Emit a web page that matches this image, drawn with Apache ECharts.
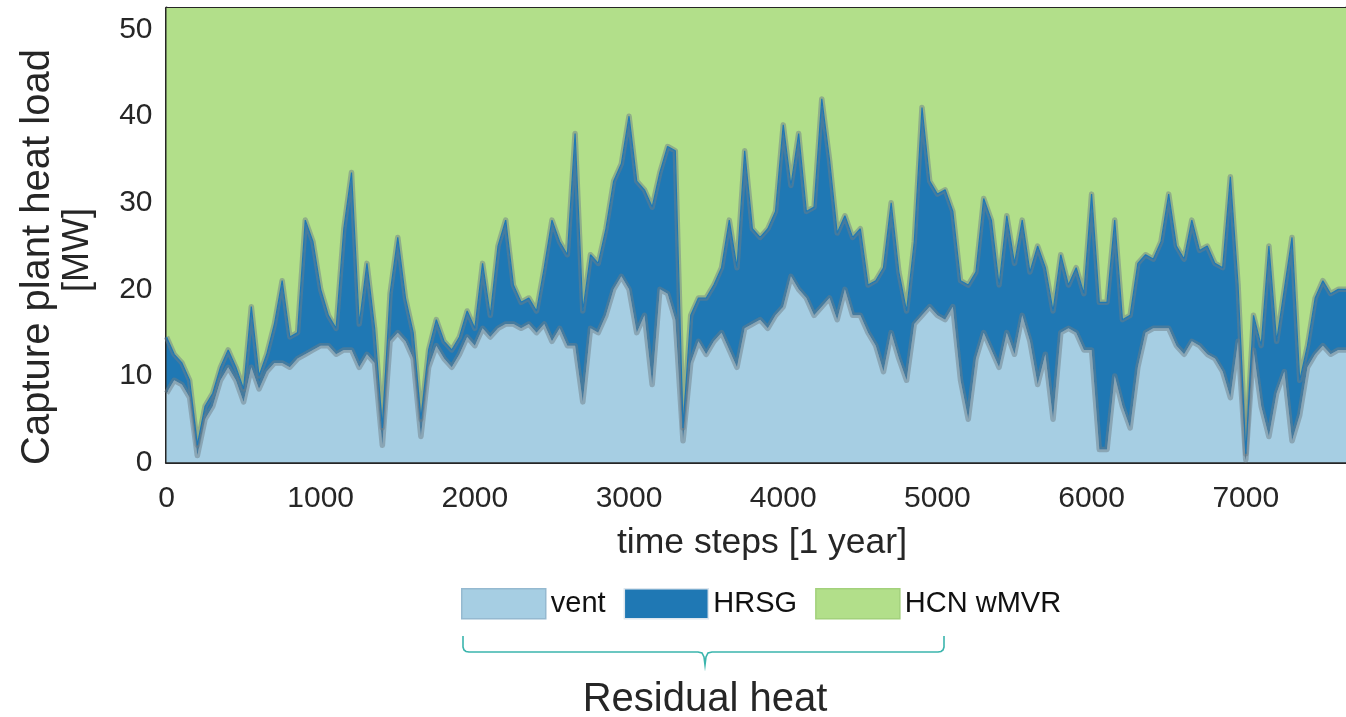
<!DOCTYPE html>
<html><head><meta charset="utf-8">
<script src="https://cdn.jsdelivr.net/npm/echarts@6/dist/echarts.min.js"></script>
<style>html,body{margin:0;padding:0;background:#fff;}#c{width:1346px;height:717px;}</style>
</head><body><div id="c"></div><script>
// time steps (x)
const steps = [0,50,100,150,200,250,300,350,400,450,500,550,600,650,700,750,800,850,900,950,
1000,1050,1100,1150,1200,1250,1300,1350,1400,1450,1500,1550,1600,1650,1700,1750,1800,1850,1900,1950,
2000,2050,2100,2150,2200,2250,2300,2350,2400,2450,2500,2550,2600,2650,2700,2750,2800,2850,2900,2950,
3000,3050,3100,3150,3200,3250,3300,3350,3400,3450,3500,3550,3600,3650,3700,3750,3800,3850,3900,3950,
4000,4050,4100,4150,4200,4250,4300,4350,4400,4450,4500,4550,4600,4650,4700,4750,4800,4850,4900,4950,
5000,5050,5100,5150,5200,5250,5300,5350,5400,5450,5500,5550,5600,5650,5700,5750,5800,5850,5900,5950,
6000,6050,6100,6150,6200,6250,6300,6350,6400,6450,6500,6550,6600,6650,6700,6750,6800,6850,6900,6950,
7000,7050,7100,7150,7200,7250,7300,7350,7400,7450,7500,7550,7600,7650];
// vent [MW]
const vent = [8,9.5,9,7.5,0.8,5,6.5,9.5,11,9.5,7,11,8.5,10.5,11.5,11.5,11,12,12.5,13,
13.5,13.5,12.5,13,13,11,12.5,11.5,2,14,15,14,12,3,11,13.5,12,11,12.5,14.5,
13.5,15.5,14.5,15.5,16,16,15.5,16,15,16,14,15.5,13.5,13.5,7,15.5,15,17,20,21.5,
20,15,17,9,20,19.5,16.5,2.5,11.5,14,12.5,14,15,13,11,15.5,16,16.5,15.5,17,
18,21.5,20,19,17,18,19,16.5,20,17,17,15,13.5,10.5,15,12,9.5,16,17,18,
17,16.5,18,9.5,5,12,15,13,11,15,12.5,17,14,9,12.5,5,15,15.5,15,13,
13,1.5,1.5,10,6.5,4,11,15,15.5,15.5,15.5,13.5,12.5,14,13.5,12.5,12,10.5,7.5,14,
0.3,13,6.5,3,8,10.5,2.5,5.5,11,12.5,13.5,12.5,13,13];
// HRSG [MW]
const hrsg = [6.5,3,2.5,2,1.2,1.5,1.5,1.5,2,1.5,1.5,7,1.5,2,4.5,9.5,3.5,3,15.5,12.5,
6.5,3.5,3,14,20.5,5,10.5,4,2,5.5,11,5,3,2,2,3,2,2,2,3,
2,7.5,2.5,9.5,12,4.5,3,3,2.5,6.5,14,10,10.5,24.5,10.5,8.5,8,10,12.5,13,
20,17.5,14.5,20.5,13.5,17,19.5,1.5,5.5,5,6.5,6.5,7.5,15,11.5,20.5,11,9.5,11.5,12,
21,10.5,18,10,12.5,24,16,10,8.5,9,10,5.5,7.5,12,15,10,8,9.5,24,14.5,
14,15,11,11.5,15.5,10,15.5,15,9.5,13.5,10.5,11,8,16,10,12.5,9,5,7.5,6.5,
18,17,17,18,10,13,12,9,8,10,15.5,11.5,11,14,11,12.5,11,12,25.5,6.5,
0.7,4,7,22,6,9.5,23.5,4,2.5,6.5,7.5,7,7,7];
// HCN wMVR [MW]
const hcn = [38.5,40.5,41.5,43.5,51,46.5,45,42,40,42,44.5,35,43,40.5,37,32,38.5,38,25,27.5,
33,36,37.5,26,19.5,37,30,37.5,49,33.5,27,34,38,48,40,36.5,39,40,38.5,35.5,
37.5,30,36,28,25,32.5,34.5,34,35.5,30.5,25,27.5,29,15,35.5,29,30,26,20.5,18.5,
13,20.5,21.5,23.5,19.5,16.5,17,49,36,34,34,32.5,30.5,25,30.5,17,26,27,26,24,
14,21,15,24,23.5,11,18,26.5,24.5,27,26,32.5,32,30.5,23,31,35.5,27.5,12,20.5,
22,21.5,24,32,32.5,31,22.5,25,32.5,24.5,30,25,31,28,30.5,35.5,29,32.5,30.5,33.5,
22,34.5,34.5,25,36.5,36,30,29,29.5,27.5,22,28,29.5,25,28.5,28,30,30.5,20,32.5,
52,36,39.5,28,39,33,27,43.5,39.5,34,32,33.5,33,33];
const seriesNames = ['vent', 'HRSG', 'HCN wMVR'];
const seriesColors = ['#a6cee3', '#1f78b4', '#b2df8a'];
const xTickLabels = [0, 1000, 2000, 3000, 4000, 5000, 6000, 7000];
const yTickLabels = [0, 10, 20, 30, 40, 50];

const FONT = "'Liberation Sans', Arial, Helvetica, sans-serif";
const INK = '#262626';
const values = [vent, hrsg, hcn];
const isMajor = (idx, val) => xTickLabels.indexOf(Number(val)) >= 0;

const areaSeries = seriesNames.map((n, k) => ({
  name: n, type: 'line', stack: 'heat', data: values[k],
  symbol: 'none', showSymbol: false, smooth: false, z: 2,
  itemStyle: { color: seriesColors[k] },
  lineStyle: { width: 0, color: seriesColors[k] },
  areaStyle: { color: seriesColors[k], opacity: 1 },
  emphasis: { disabled: true }, silent: true
}));
const edgeSeries = [vent, hrsg].map((arr, k) => ({
  name: 'edge' + k, type: 'line', stack: 'edges', data: arr,
  symbol: 'none', showSymbol: false, z: 3,
  lineStyle: { width: 5.5, color: 'rgba(110,125,135,0.5)', join: 'round' },
  emphasis: { disabled: true }, silent: true
}));
const edgeCore = [{
  name: 'edgeCore', type: 'line', stack: 'edgesCore', data: vent,
  symbol: 'none', showSymbol: false, z: 4,
  lineStyle: { width: 0 }, silent: true
}, {
  name: 'edgeCore2', type: 'line', stack: 'edgesCore', data: hrsg,
  symbol: 'none', showSymbol: false, z: 4,
  lineStyle: { width: 1.2, color: '#1f78b4' }, silent: true
}];

const xCommon = {
  type: 'category', data: steps.map(String), boundaryGap: false,
  axisLine: { show: true, onZero: false, lineStyle: { color: INK, width: 3 } },
  axisTick: { show: true, inside: true, length: 11, interval: isMajor, lineStyle: { color: INK, width: 3 } },
  splitLine: { show: false }
};

const chart = echarts.init(document.getElementById('c'), null, { renderer: 'canvas' });
chart.setOption({
  animation: false,
  backgroundColor: '#ffffff',
  textStyle: { fontFamily: FONT },
  grid: { left: 166.5, right: -13, top: 8, bottom: 254.5, containLabel: false },
  xAxis: [Object.assign({}, xCommon, {
    position: 'bottom',
    axisLabel: { show: true, interval: isMajor, margin: 21, fontSize: 30, color: INK, fontFamily: FONT }
  }), Object.assign({}, xCommon, {
    position: 'top', axisLabel: { show: false }
  })],
  yAxis: [{
    type: 'value', min: 0, max: 52.5, interval: 10, position: 'left',
    axisLine: { show: true, onZero: false, lineStyle: { color: INK, width: 3 } },
    axisTick: { show: true, inside: true, length: 14, lineStyle: { color: INK, width: 3 } },
    axisLabel: { show: true, margin: 14, fontSize: 30, color: INK, fontFamily: FONT,
      formatter: v => yTickLabels.indexOf(v) >= 0 ? String(v) : '' },
    splitLine: { show: false }
  }, {
    type: 'value', min: 0, max: 52.5, interval: 10, position: 'right',
    axisLine: { show: true, onZero: false, lineStyle: { color: INK, width: 3 } },
    axisTick: { show: true, inside: true, length: 14, lineStyle: { color: INK, width: 3 } },
    axisLabel: { show: false }, splitLine: { show: false }
  }],
  legend: {
    show: true, left: 461, top: 588, padding: 0, orient: 'horizontal',
    itemWidth: 84, itemHeight: 30, itemGap: 18, icon: 'rect',
    textStyle: { fontSize: 29, color: '#111', fontFamily: FONT },
    selectedMode: false,
    data: [
      { name: 'vent', itemStyle: { borderColor: '#95b9d0', borderWidth: 1.5 } },
      { name: 'HRSG', itemStyle: { borderColor: '#dde6ee', borderWidth: 1.5 } },
      { name: 'HCN wMVR', itemStyle: { borderColor: '#a3d17c', borderWidth: 1.5 } }
    ]
  },
  series: areaSeries.concat(edgeSeries, edgeCore),
  graphic: [
    { type: 'text', x: 38, y: 257, rotation: Math.PI / 2,
      style: { text: 'Capture plant heat load', font: "40px " + FONT, fill: INK, align: 'center', verticalAlign: 'middle' } },
    { type: 'text', x: 78, y: 250, rotation: Math.PI / 2,
      style: { text: '[MW]', font: "36px " + FONT, fill: INK, align: 'center', verticalAlign: 'middle' } },
    { type: 'text', x: 762, y: 543,
      style: { text: 'time steps [1 year]', font: "35.5px " + FONT, fill: INK, align: 'center', verticalAlign: 'middle' } },
    { type: 'polyline', shape: { points: [[463,636],[463,647],[464,650],[466,651.5],[469,652],[698,652],[702,653],[704,657],[705,665],[706,657],[708,653],[712,652],[938,652],[941,651.5],[943,650],[944,647],[944,636]] },
      style: { fill: null, stroke: '#3bb5ad', lineWidth: 1.6 } },
    { type: 'text', x: 705, y: 700,
      style: { text: 'Residual heat', font: "40px " + FONT, fill: INK, align: 'center', verticalAlign: 'middle' } }
  ]
});
</script></body></html>
